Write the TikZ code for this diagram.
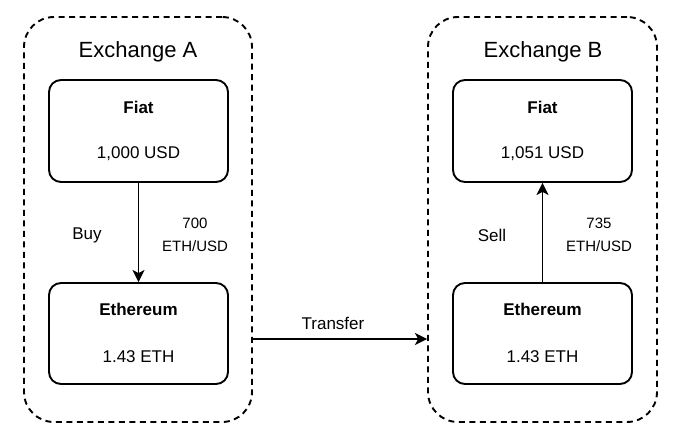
\documentclass[tikz,border=0pt]{standalone}
\usepackage{fontspec}
\setmainfont{Liberation Sans}
\usetikzlibrary{arrows.meta}
\begin{document}
\begin{tikzpicture}[x=1pt,y=-1pt,
  outerbox/.style={draw, dashed, dash pattern=on 6pt off 4.5pt, line width=1.9pt, rounded corners=30pt, minimum width=228pt, minimum height=405pt, inner sep=0pt},
  acct/.style={draw, line width=1.9pt, rounded corners=12pt, minimum width=179pt, minimum height=102pt, inner sep=0pt},
  title/.style={font=\fontsize{22}{26}\selectfont, inner sep=0pt},
  txt/.style={font=\fontsize{17}{20}\selectfont, inner sep=0pt},
  btxt/.style={font=\fontsize{17}{20}\selectfont\bfseries, inner sep=0pt},
  rate/.style={font=\fontsize{15}{23}\selectfont, align=center, inner sep=0pt},
  conn/.style={line width=1.9pt, -{Stealth[length=12pt,width=12pt,inset=3pt]}}
]
\useasboundingbox (0,0) rectangle (673,443);
% outer exchange boxes
\node[outerbox] (exA) at (138,219.5) {};
\node[outerbox, minimum width=229pt] (exB) at (542.5,219.5) {};
\node[title] (tA) at (138,52) {Exchange A};
\node[title] (tB) at (543,52) {Exchange B};
% accounts
\node[acct] (fiatA) at (138.5,131) {};
\node[acct, minimum height=101pt] (ethA) at (138.5,333.5) {};
\node[acct] (fiatB) at (542.5,131) {};
\node[acct, minimum height=101pt] (ethB) at (542.5,333.5) {};
% account texts
\node[btxt] (fiatAh) at (138.5,107) {Fiat};
\node[txt] (fiatAv) at (138.5,154) {1,000 USD};
\node[btxt] (ethAh) at (138.5,309) {Ethereum};
\node[txt] (ethAv) at (138.5,357) {1.43 ETH};
\node[btxt] (fiatBh) at (542.5,107) {Fiat};
\node[txt] (fiatBv) at (542.5,154) {1,051 USD};
\node[btxt] (ethBh) at (542.5,309) {Ethereum};
\node[txt] (ethBv) at (542.5,357) {1.43 ETH};
% connectors
\draw[conn] (fiatA) -- (ethA);
\draw[conn] (ethB) -- (fiatB);
\coordinate (ty) at (0,339);
\draw[conn] (exA.east |- ty) -- (exB.west |- ty);
% labels
\node[txt] (buy) at (87,235) {Buy};
\node[rate] (rateA) at (195,234.5) {700\\ETH/USD};
\node[txt] (sell) at (492,235) {Sell};
\node[rate] (rateB) at (599,234.5) {735\\ETH/USD};
\node[txt] (transfer) at (333,323) {Transfer};
\end{tikzpicture}
\end{document}
